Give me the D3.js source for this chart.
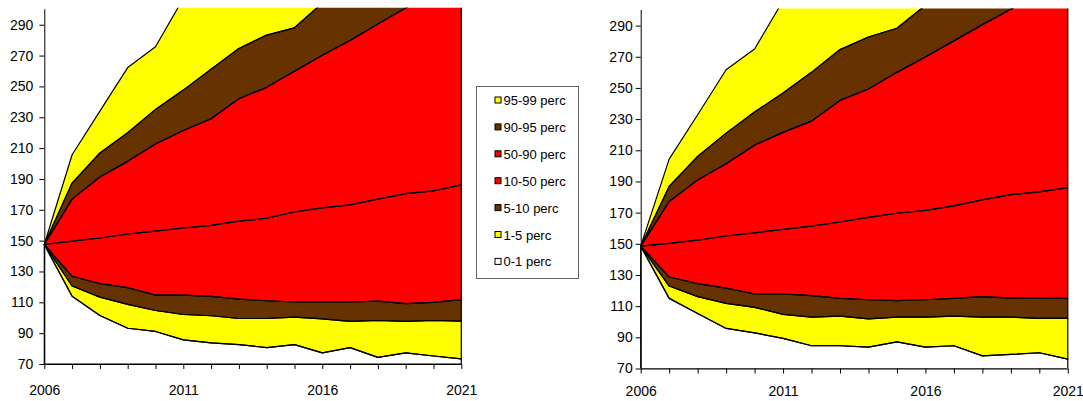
<!DOCTYPE html>
<html>
<head>
<meta charset="utf-8">
<script src="https://cdn.jsdelivr.net/npm/d3@7"></script>
<style>
  html, body { margin: 0; padding: 0; background: #fff; }
  svg { display: block; font-family: "Liberation Sans", Arial, sans-serif; }
</style>
</head>
<body>
<svg id="chart" width="1083" height="401"></svg>
<script>
// ---- data ----
const years = [2006, 2007, 2008, 2009, 2010, 2011, 2012, 2013, 2014, 2015, 2016, 2017, 2018, 2019, 2020, 2021];
const xTickLabels = [2006, 2011, 2016, 2021];
const yTickLabels = [70, 90, 110, 130, 150, 170, 190, 210, 230, 250, 270, 290];

const leftP1  = [147.5, 113.9, 101.5, 93.2, 91.1, 85.6, 83.7, 82.6, 80.6, 82.6, 77.2, 80.6, 74.3, 77.2, 75.2, 73.3];
const leftP5  = [147.5, 120.6, 113.4, 108.7, 104.7, 102.1, 101.3, 99.5, 99.5, 100.4, 99.3, 97.6, 98.2, 97.6, 98.2, 97.8];
const leftP10 = [147.5, 126.9, 122.1, 119.5, 114.7, 114.7, 113.9, 112.1, 111.0, 110.2, 110.2, 110.2, 110.8, 109.1, 110.0, 111.7];
const leftP50 = [147.5, 149.7, 151.7, 154.3, 156.2, 158.2, 159.9, 162.7, 164.5, 168.6, 171.2, 173.2, 176.9, 180.5, 182.3, 186.2];
const leftP90 = [147.5, 176.9, 191.2, 201.4, 212.7, 221.4, 229.0, 242.0, 249.4, 259.8, 270.2, 279.8, 290.4, 300.8, 311, 322];
const leftP95 = [147.5, 187.3, 206.8, 219.9, 235.1, 247.6, 261.1, 274.6, 283.3, 288.0, 304, 318, 332, 345, 358, 372];
const leftP99 = [147.5, 205.7, 234.0, 262.2, 275.7, 307, 330, 352, 372, 392, 412, 432, 452, 472, 492, 512];

const rightP1  = [148.5, 115.0, 105.3, 95.7, 92.9, 89.3, 84.6, 84.6, 83.7, 87.1, 83.7, 84.6, 78.1, 79.0, 80.1, 76.0];
const rightP5  = [148.5, 122.9, 116.1, 111.8, 109.2, 104.7, 103.0, 103.6, 101.9, 103.0, 103.0, 103.6, 103.0, 103.0, 102.1, 102.1];
const rightP10 = [148.5, 128.7, 124.4, 121.6, 117.8, 117.8, 116.7, 115.0, 114.1, 113.5, 114.1, 115.0, 116.1, 115.2, 115.0, 115.0];
const rightP50 = [148.5, 150.3, 152.3, 155.0, 157.0, 159.3, 161.3, 164.0, 167.0, 169.6, 171.5, 174.3, 178.2, 181.6, 183.3, 186.1];
const rightP90 = [148.5, 177.1, 191.0, 201.3, 213.3, 221.5, 228.7, 242.0, 249.3, 260.0, 269.9, 280.2, 290.6, 300.5, 311, 322];
const rightP95 = [148.5, 186.8, 206.0, 221.0, 234.5, 246.7, 260.0, 274.6, 282.7, 288.3, 303, 317, 331, 345, 358, 372];
const rightP99 = [148.5, 204.3, 232.8, 261.7, 275.0, 306, 330, 352, 372, 392, 412, 432, 452, 472, 492, 512];

const bandNames  = ["95-99 perc", "90-95 perc", "50-90 perc", "10-50 perc", "5-10 perc", "1-5 perc", "0-1 perc"];
const bandColors = ["#FFFF00", "#663300", "#FF0000", "#FF0000", "#663300", "#FFFF00", "#FFFFFF"];

// ---- drawing ----
const svg = d3.select("#chart");
const yMin = 70, yMax = 300;

function drawPanel(id, frame, P) {
  const x = d3.scaleLinear().domain([years[0], years[years.length - 1]]).range([frame.left, frame.right]);
  const y = d3.scaleLinear().domain([yMin, yMax]).range([frame.bottom, frame.top]);
  const g = svg.append("g");

  g.append("clipPath").attr("id", "clip-" + id)
    .append("rect")
    .attr("x", frame.left - 2).attr("y", frame.top - 1.5)
    .attr("width", frame.right - frame.left + 4).attr("height", frame.bottom - frame.top + 1.5);

  const base = years.map(() => yMin);
  const bands = [
    [P[5], P[6]], [P[4], P[5]], [P[3], P[4]], [P[2], P[3]], [P[1], P[2]], [P[0], P[1]], [base, P[0]]
  ];
  const area = d3.area()
    .x((d, i) => x(years[i]))
    .y0(d => y(d[0]))
    .y1(d => y(d[1]));

  const plot = g.append("g").attr("clip-path", `url(#clip-${id})`);
  const bandData = bands.map(([lo, hi]) => years.map((yr, i) => [lo[i], hi[i]]));
  plot.selectAll("path.fill").data(bandData).join("path")
    .attr("class", "fill")
    .attr("d", area)
    .attr("fill", (d, i) => bandColors[i])
    .attr("stroke", "none");
  plot.selectAll("path.edge").data(bandData).join("path")
    .attr("class", "edge")
    .attr("d", area)
    .attr("fill", "none")
    .attr("stroke", "#000")
    .attr("stroke-width", 1.2)
    .attr("stroke-linejoin", "round");

  const yAxis = d3.axisLeft(y).tickValues(yTickLabels).tickSize(5).tickPadding(frame.yPad).tickFormat(d3.format("d"));
  const ga = g.append("g").attr("transform", `translate(${frame.left},0)`).call(yAxis);
  ga.select(".domain").attr("d", `M0.5,${frame.top}V${frame.bottom}`).attr("stroke", "#000");
  ga.selectAll("text").attr("font-size", 14).attr("fill", "#000").attr("font-family", "Liberation Sans, Arial, sans-serif");
  ga.selectAll(".tick line").attr("stroke", "#000");

  const xAxis = d3.axisBottom(x).tickValues(years).tickSize(5).tickFormat(d => xTickLabels.includes(d) ? d : "");
  const gx = g.append("g").attr("transform", `translate(0,${frame.bottom})`).call(xAxis);
  gx.select(".domain").attr("d", `M${frame.left},0.5H${frame.right}`).attr("stroke", "#000");
  gx.selectAll(".tick line").attr("stroke", "#000");
  gx.selectAll("text").attr("font-size", 14).attr("fill", "#000")
    .attr("font-family", "Liberation Sans, Arial, sans-serif")
    .attr("dy", null).attr("y", frame.labelBase - frame.bottom);
}

drawPanel("L", { left: 44.3, right: 461.3, top: 9.3, bottom: 364, yPad: 6, labelBase: 395 },
  [leftP1, leftP5, leftP10, leftP50, leftP90, leftP95, leftP99]);
drawPanel("R", { left: 640.7, right: 1067.8, top: 10, bottom: 368.5, yPad: 3, labelBase: 396 },
  [rightP1, rightP5, rightP10, rightP50, rightP90, rightP95, rightP99]);

// legend
const lg = svg.append("g");
lg.append("rect").attr("x", 476.5).attr("y", 86.5).attr("width", 102).attr("height", 192)
  .attr("fill", "#fff").attr("stroke", "#666").attr("stroke-width", 1);
const items = lg.selectAll("g.item").data(bandNames).join("g")
  .attr("class", "item")
  .attr("transform", (d, i) => `translate(0,${100.5 + i * 26.9})`);
items.append("rect").attr("x", 495).attr("y", -3.5).attr("width", 6).attr("height", 6)
  .attr("fill", (d, i) => bandColors[i]).attr("stroke", "#000").attr("stroke-width", 1);
items.append("text").attr("x", 503.5).attr("y", 4.5)
  .attr("font-size", 13).attr("fill", "#000").text(d => d);
</script>
</body>
</html>
